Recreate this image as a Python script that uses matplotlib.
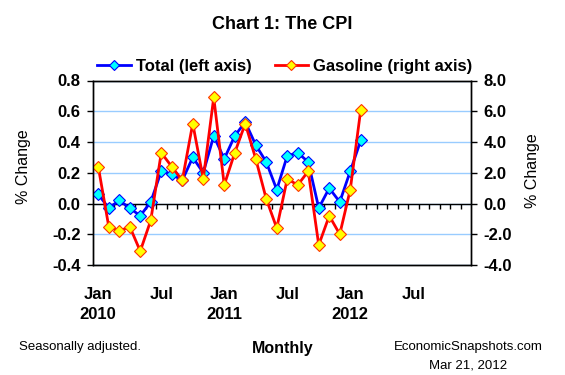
#Recreate "Chart 1: The CPI" (monthly % change, total vs gasoline)

import matplotlib as mpl
mpl.use('Agg')
import matplotlib.pyplot as plt

#Monthly data, Jan 2010 - Feb 2012
total = [0.06, -0.03, 0.02, -0.03, -0.08, 0.01, 0.21, 0.19, 0.15, 0.30, 0.20, 0.44, 0.29,
         0.44, 0.53, 0.38, 0.27, 0.09, 0.31, 0.33, 0.27, -0.03, 0.10, 0.01, 0.21, 0.41]
gasoline = [2.4, -1.5, -1.8, -1.5, -3.1, -1.1, 3.3, 2.4, 1.5, 5.2, 1.6, 6.9, 1.2,
            3.3, 5.2, 2.9, 0.3, -1.6, 1.6, 1.2, 2.1, -2.7, -0.8, -2.0, 0.9, 6.1]
months = list(range(len(total)))

xtick_pos = [0, 6, 12, 18, 24, 30]
xtick_labels = ['Jan\n2010', 'Jul', 'Jan\n2011', 'Jul', 'Jan\n2012', 'Jul']
left_ticks = [-0.4, -0.2, 0.0, 0.2, 0.4, 0.6, 0.8]
right_ticks = [-4.0, -2.0, 0.0, 2.0, 4.0, 6.0, 8.0]

plt.rcParams['font.family'] = 'Liberation Sans'

W, H = 565.0, 375.0
fig = plt.figure(figsize=(W/100, H/100), dpi=100)

#Plot area in pixels: x 93-471, y 80.5-265
ax = fig.add_axes([93/W, 1-265/H, (471-93)/W, (265-80.5)/H])
ax2 = ax.twinx()

#Grid lines and zero line with month ticks
ax.set_axisbelow(True)
ax.yaxis.grid(True, color='#99CCFF', linewidth=1)
ax.axhline(0, color='k', linewidth=1, zorder=2)
ax.vlines([k + 0.5 for k in range(35)], -0.034, 0, color='k', linewidth=1, zorder=2)

#Series
l1, = ax.plot(months, total, color='#0000FF', linewidth=2, marker='D', markersize=6.5,
              markerfacecolor='#00FFFF', markeredgecolor='#0000FF', markeredgewidth=0.8,
              zorder=3, label='Total (left axis)')
l2, = ax2.plot(months, gasoline, color='#FF0000', linewidth=2, marker='D', markersize=6.5,
               markerfacecolor='#FFFF00', markeredgecolor='#FF3300', markeredgewidth=0.8,
               label='Gasoline (right axis)')

ax.set_xlim(-0.5, 35.5)
ax.set_ylim(-0.4, 0.8)
ax2.set_ylim(-4.0, 8.0)

ax.set_yticks(left_ticks)
ax.set_yticklabels(['%.1f' % v for v in left_ticks])
ax2.set_yticks(right_ticks)
ax2.set_yticklabels(['%.1f' % v for v in right_ticks])
for a in (ax, ax2):
    a.tick_params(axis='y', direction='out', length=4, width=1, pad=5, labelsize=12)
    for lab in a.get_yticklabels():
        lab.set_fontweight('bold')
    for s in a.spines.values():
        s.set_color('k')
        s.set_linewidth(1)

ax.set_xticks(xtick_pos)
ax.set_xticklabels(xtick_labels, fontsize=12, fontweight='bold', linespacing=1.4)
ax.tick_params(axis='x', length=0, pad=16)

#Titles and notes
fig.text(0.5, 1-24.6/H, 'Chart 1: The CPI', ha='center', va='center', fontsize=13, fontweight='bold')
fig.text(24/W, 1-167/H, '% Change', ha='center', va='center', rotation=90, fontsize=11.5)
fig.text(533/W, 1-171/H, '% Change', ha='center', va='center', rotation=90, fontsize=11.5)
fig.text(283/W, 1-349/H, 'Monthly', ha='center', va='center', fontsize=11.5, fontweight='bold')
fig.text(19/W, 1-347/H, 'Seasonally adjusted.', ha='left', va='center', fontsize=9.5)
fig.text(468/W, 1-347/H, 'EconomicSnapshots.com', ha='center', va='center', fontsize=9.5)
fig.text(468/W, 1-365/H, 'Mar 21, 2012', ha='center', va='center', fontsize=9.5)

#Legend
fig.legend(handles=[l1, l2], loc='center', bbox_to_anchor=(0.504, 1-66/H), ncol=2,
           frameon=False, prop={'weight': 'bold', 'size': 12}, handlelength=2.0,
           handletextpad=0.3, columnspacing=1.4, markerscale=0.8)

plt.savefig('out.png', dpi=100)
plt.close()
